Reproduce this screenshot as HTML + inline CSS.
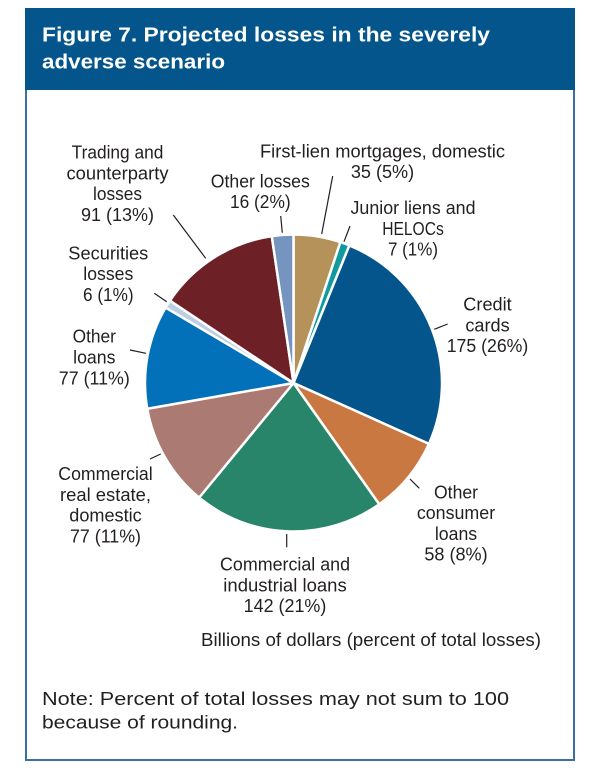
<!DOCTYPE html>
<html>
<head>
<meta charset="utf-8">
<style>
  html, body { margin:0; padding:0; background:#ffffff; }
  body { width:604px; height:784px; overflow:hidden; }
  svg { display:block; }
  .lbl { font-family:"Liberation Sans", "DejaVu Sans", sans-serif; font-size:18.5px; fill:#231f20; text-anchor:middle; }
  .ttl { font-family:"Liberation Sans", "DejaVu Sans", sans-serif; font-size:20px; font-weight:bold; fill:#ffffff; }
  .note { font-family:"Liberation Sans", "DejaVu Sans", sans-serif; font-size:18.3px; fill:#231f20; }
  .ld { stroke:#231f20; stroke-width:1.2; fill:none; }
  .sl { stroke:#ffffff; stroke-width:2.5; stroke-linejoin:round; }
</style>
</head>
<body>
<svg width="604" height="784" viewBox="0 0 604 784" xmlns="http://www.w3.org/2000/svg">
  <!-- frame -->
  <rect x="26" y="9" width="548" height="751" fill="#ffffff" stroke="#3b6fa3" stroke-width="2"/>
  <rect x="25" y="8" width="550" height="82" fill="#03558b"/>
  <text class="ttl" x="42" y="41.7" textLength="448" lengthAdjust="spacingAndGlyphs">Figure 7. Projected losses in the severely</text>
  <text class="ttl" x="42" y="68.3" textLength="183" lengthAdjust="spacingAndGlyphs">adverse scenario</text>

  <!-- pie -->
  <g class="sl">
    <path d="M293.5,383 L293.5,234.5 A148.5,148.5 0 0 1 340.43,242.10 Z" fill="#b5925a"/>
    <path d="M293.5,383 L340.43,242.10 A148.5,148.5 0 0 1 349.38,245.42 Z" fill="#109a9d"/>
    <path d="M293.5,383 L349.38,245.42 A148.5,148.5 0 0 1 428.95,443.90 Z" fill="#03558b"/>
    <path d="M293.5,383 L428.95,443.90 A148.5,148.5 0 0 1 379.23,504.27 Z" fill="#c97842"/>
    <path d="M293.5,383 L379.23,504.27 A148.5,148.5 0 0 1 199.10,497.63 Z" fill="#288569"/>
    <path d="M293.5,383 L199.10,497.63 A148.5,148.5 0 0 1 147.26,408.79 Z" fill="#ab7a73"/>
    <path d="M293.5,383 L147.26,408.79 A148.5,148.5 0 0 1 165.57,307.58 Z" fill="#0271b9"/>
    <path d="M293.5,383 L165.57,307.58 A148.5,148.5 0 0 1 169.95,300.63 Z" fill="#bdcee2"/>
    <path d="M293.5,383 L169.95,300.63 A148.5,148.5 0 0 1 271.76,236.10 Z" fill="#6e2027"/>
    <path d="M293.5,383 L271.76,236.10 A148.5,148.5 0 0 1 293.5,234.5 Z" fill="#7594bf"/>
  </g>

  <!-- leader lines -->
  <line class="ld" x1="173.3" y1="215" x2="205.7" y2="258.3"/>
  <line class="ld" x1="280.7" y1="216" x2="282.3" y2="232.7"/>
  <line class="ld" x1="154.3" y1="293.3" x2="166.7" y2="301.7"/>
  <line class="ld" x1="130" y1="350" x2="146" y2="353.3"/>
  <line class="ld" x1="332.7" y1="176" x2="321.7" y2="234"/>
  <line class="ld" x1="350" y1="226" x2="344" y2="241.7"/>
  <line class="ld" x1="447.7" y1="324" x2="434.3" y2="329.3"/>
  <line class="ld" x1="150" y1="459" x2="160.7" y2="454"/>
  <line class="ld" x1="410" y1="479" x2="419.3" y2="488.3"/>
  <line class="ld" x1="286.7" y1="534" x2="286.7" y2="547.3"/>

  <!-- labels -->
  <text class="lbl" x="117.5" y="158.5" textLength="91.7" lengthAdjust="spacingAndGlyphs">Trading and</text>
  <text class="lbl" x="117.5" y="179.3" textLength="102" lengthAdjust="spacingAndGlyphs">counterparty</text>
  <text class="lbl" x="117.5" y="200.1" textLength="49" lengthAdjust="spacingAndGlyphs">losses</text>
  <text class="lbl" x="117.5" y="220.9" textLength="73" lengthAdjust="spacingAndGlyphs">91 (13%)</text>

  <text class="lbl" x="260.3" y="187.3" textLength="99" lengthAdjust="spacingAndGlyphs">Other losses</text>
  <text class="lbl" x="260.3" y="208.1" textLength="60.7" lengthAdjust="spacingAndGlyphs">16 (2%)</text>

  <text class="lbl" x="108.3" y="259.3" textLength="80" lengthAdjust="spacingAndGlyphs">Securities</text>
  <text class="lbl" x="108.3" y="280.1" textLength="50" lengthAdjust="spacingAndGlyphs">losses</text>
  <text class="lbl" x="108.3" y="300.9" textLength="50.6" lengthAdjust="spacingAndGlyphs">6 (1%)</text>

  <text class="lbl" x="94.3" y="342.7" textLength="43.3" lengthAdjust="spacingAndGlyphs">Other</text>
  <text class="lbl" x="94.3" y="363.5" textLength="42.3" lengthAdjust="spacingAndGlyphs">loans</text>
  <text class="lbl" x="94.3" y="384.3" textLength="71" lengthAdjust="spacingAndGlyphs">77 (11%)</text>

  <text class="lbl" x="382.5" y="157.3" textLength="245" lengthAdjust="spacingAndGlyphs">First-lien mortgages, domestic</text>
  <text class="lbl" x="382.5" y="178.1" textLength="63.3" lengthAdjust="spacingAndGlyphs">35 (5%)</text>

  <text class="lbl" x="413" y="214" textLength="125" lengthAdjust="spacingAndGlyphs">Junior liens and</text>
  <text class="lbl" x="413" y="234.8" textLength="61.6" lengthAdjust="spacingAndGlyphs">HELOCs</text>
  <text class="lbl" x="413" y="255.6" textLength="50" lengthAdjust="spacingAndGlyphs">7 (1%)</text>

  <text class="lbl" x="487.5" y="310.5" textLength="48.4" lengthAdjust="spacingAndGlyphs">Credit</text>
  <text class="lbl" x="487.5" y="331.3" textLength="44.3" lengthAdjust="spacingAndGlyphs">cards</text>
  <text class="lbl" x="487.5" y="352.1" textLength="81.6" lengthAdjust="spacingAndGlyphs">175 (26%)</text>

  <text class="lbl" x="105.5" y="480" textLength="94.4" lengthAdjust="spacingAndGlyphs">Commercial</text>
  <text class="lbl" x="105.5" y="500.8" textLength="91" lengthAdjust="spacingAndGlyphs">real estate,</text>
  <text class="lbl" x="105.5" y="521.6" textLength="72.4" lengthAdjust="spacingAndGlyphs">domestic</text>
  <text class="lbl" x="105.5" y="542.4" textLength="71" lengthAdjust="spacingAndGlyphs">77 (11%)</text>

  <text class="lbl" x="456" y="498.3" textLength="44" lengthAdjust="spacingAndGlyphs">Other</text>
  <text class="lbl" x="456" y="519.1" textLength="78.3" lengthAdjust="spacingAndGlyphs">consumer</text>
  <text class="lbl" x="456" y="539.9" textLength="42.3" lengthAdjust="spacingAndGlyphs">loans</text>
  <text class="lbl" x="456" y="560.7" textLength="63.3" lengthAdjust="spacingAndGlyphs">58 (8%)</text>

  <text class="lbl" x="285" y="570.5" textLength="130" lengthAdjust="spacingAndGlyphs">Commercial and</text>
  <text class="lbl" x="285" y="591.3" textLength="123.4" lengthAdjust="spacingAndGlyphs">industrial loans</text>
  <text class="lbl" x="285" y="612.1" textLength="82.7" lengthAdjust="spacingAndGlyphs">142 (21%)</text>

  <text class="lbl" x="201" y="646" style="text-anchor:start" textLength="340" lengthAdjust="spacingAndGlyphs">Billions of dollars (percent of total losses)</text>

  <!-- note -->
  <text class="note" x="42" y="705" textLength="467" lengthAdjust="spacingAndGlyphs">Note: Percent of total losses may not sum to 100</text>
  <text class="note" x="42" y="728.3" textLength="196" lengthAdjust="spacingAndGlyphs">because of rounding.</text>
</svg>
</body>
</html>
